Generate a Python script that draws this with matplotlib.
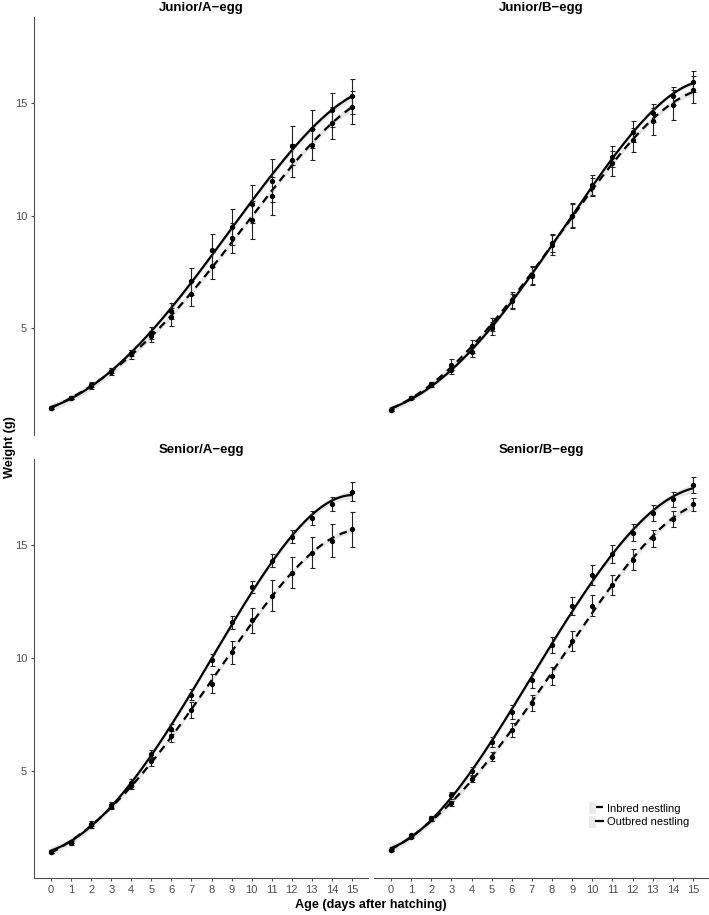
import numpy as np
import matplotlib
matplotlib.use('Agg')
import matplotlib.pyplot as plt
from matplotlib.patches import Patch
from matplotlib.lines import Line2D
from matplotlib.legend_handler import HandlerTuple

plt.rcParams['font.family'] = ['Liberation Sans', 'DejaVu Sans']

# ---------------- data ----------------
days = list(range(16))
panel_titles = ['Junior/A−egg', 'Junior/B−egg', 'Senior/A−egg', 'Senior/B−egg']
y_ticks = [5, 10, 15]
x_label = 'Age (days after hatching)'
y_label = 'Weight (g)'
legend_labels = ['Inbred nestling', 'Outbred nestling']

# Junior/A-egg
ja_out = [1.46, 1.93, 2.50, 3.12, 3.90, 4.79, 5.78, 7.08, 8.45, 9.51, 10.53, 11.55, 13.09, 13.85, 14.67, 15.29]
ja_out_se = [0.05, 0.06, 0.10, 0.12, 0.15, 0.25, 0.35, 0.60, 0.75, 0.80, 0.84, 0.96, 0.87, 0.84, 0.74, 0.77]
ja_in = [1.46, 1.93, 2.45, 3.08, 3.85, 4.64, 5.48, 6.53, 7.78, 9.00, 9.81, 10.86, 12.44, 13.14, 14.10, 14.80]
ja_in_se = [0.05, 0.06, 0.12, 0.15, 0.20, 0.25, 0.40, 0.55, 0.60, 0.65, 0.85, 0.85, 0.73, 0.69, 0.73, 0.73]

# Junior/B-egg
jb_out = [1.39, 1.93, 2.50, 3.16, 3.97, 5.00, 6.19, 7.37, 8.77, 9.99, 11.28, 12.61, 13.72, 14.56, 15.30, 15.94]
jb_out_se = [0.05, 0.05, 0.10, 0.20, 0.25, 0.30, 0.35, 0.40, 0.40, 0.50, 0.40, 0.45, 0.45, 0.40, 0.40, 0.45]
jb_in = [1.39, 1.93, 2.52, 3.38, 4.20, 5.16, 6.26, 7.30, 8.70, 9.99, 11.36, 12.32, 13.35, 14.17, 14.90, 15.57]
jb_in_se = [0.05, 0.05, 0.10, 0.25, 0.30, 0.30, 0.35, 0.40, 0.45, 0.55, 0.45, 0.55, 0.55, 0.60, 0.65, 0.60]

# Senior/A-egg
sa_out = [1.44, 1.88, 2.68, 3.49, 4.49, 5.74, 6.84, 8.38, 9.90, 11.57, 13.13, 14.31, 15.37, 16.18, 16.81, 17.35]
sa_out_se = [0.05, 0.06, 0.10, 0.12, 0.15, 0.18, 0.22, 0.24, 0.27, 0.30, 0.26, 0.30, 0.28, 0.31, 0.32, 0.42]
sa_in = [1.44, 1.81, 2.60, 3.43, 4.34, 5.44, 6.54, 7.69, 8.87, 10.25, 11.66, 12.75, 13.78, 14.66, 15.19, 15.69]
sa_in_se = [0.05, 0.08, 0.10, 0.12, 0.15, 0.20, 0.25, 0.35, 0.43, 0.50, 0.57, 0.68, 0.70, 0.68, 0.74, 0.78]

# Senior/B-egg
sb_out = [1.50, 2.16, 2.91, 3.93, 5.00, 6.28, 7.60, 9.01, 10.59, 12.28, 13.68, 14.59, 15.54, 16.40, 17.01, 17.64]
sb_out_se = [0.05, 0.05, 0.10, 0.15, 0.20, 0.22, 0.30, 0.35, 0.35, 0.40, 0.44, 0.40, 0.37, 0.35, 0.32, 0.35]
sb_in = [1.50, 2.10, 2.87, 3.57, 4.66, 5.63, 6.81, 8.01, 9.19, 10.74, 12.32, 13.24, 14.34, 15.29, 16.13, 16.80]
sb_in_se = [0.05, 0.05, 0.10, 0.10, 0.15, 0.20, 0.30, 0.35, 0.40, 0.45, 0.45, 0.45, 0.46, 0.37, 0.35, 0.29]

panel_data = [
    (ja_in, ja_in_se, ja_out, ja_out_se),
    (jb_in, jb_in_se, jb_out, jb_out_se),
    (sa_in, sa_in_se, sa_out, sa_out_se),
    (sb_in, sb_in_se, sb_out, sb_out_se),
]

# ---------------- helpers ----------------
def smooth_fit(x, y, xs, deg=4):
    x = np.asarray(x, float) / 15.0
    y = np.asarray(y, float)
    xq = np.asarray(xs, float) / 15.0
    X = np.vander(x, deg + 1)
    coef, *_ = np.linalg.lstsq(X, y, rcond=None)
    resid = y - X @ coef
    sigma2 = resid @ resid / (len(x) - deg - 1)
    XtXi = np.linalg.inv(X.T @ X)
    Xq = np.vander(xq, deg + 1)
    fit = Xq @ coef
    se = np.sqrt(sigma2 * np.einsum('ij,jk,ik->i', Xq, XtXi, Xq))
    return fit, se

# ---------------- figure ----------------
W, H = 709, 915
fig = plt.figure(figsize=(W / 100, H / 100), dpi=100)

col_x = [(34, 368), (374, 709)]
row_y = [(17, 435), (459, 878)]

axis_grey = '#4D4D4D'
ribbon_col = '#E6E6E6'
xs = np.linspace(0, 15, 200)
dash = (0, (3.5, 2.6))

axes = []
for i in range(4):
    r, c = divmod(i, 2)
    x0, x1 = col_x[c]
    y0, y1 = row_y[r]
    ax = fig.add_axes([x0 / W, 1 - y1 / H, (x1 - x0) / W, (y1 - y0) / H])
    axes.append(ax)
    inb, inb_se, outb, outb_se = panel_data[i]

    for vals, ses, ls in ((inb, inb_se, dash), (outb, outb_se, '-')):
        fit, se = smooth_fit(days, vals, xs)
        band = 1.2 * se + 0.04
        ax.fill_between(xs, fit - band, fit + band, color=ribbon_col, lw=0, zorder=1)
        ax.plot(xs, fit, color='black', lw=1.6, linestyle=ls, zorder=3)
        ax.errorbar(days, vals, yerr=ses, fmt='none', ecolor='#222222',
                    elinewidth=0.8, capsize=1.8, capthick=0.8, zorder=4)
        ax.plot(days, vals, 'o', color='black', ms=2.8, zorder=5)

    ax.set_xlim(-0.85, 15.8)
    ax.set_ylim(0.27, 18.8)
    ax.set_title(panel_titles[i], fontsize=9.5, fontweight='bold', pad=4)

    for s in ax.spines.values():
        s.set_visible(False)
        s.set_color(axis_grey)
        s.set_linewidth(0.8)
    if c == 0:
        ax.spines['left'].set_visible(True)
        ax.set_yticks(y_ticks)
        ax.set_yticklabels([str(v) for v in y_ticks])
    else:
        ax.set_yticks([])
    if r == 1:
        ax.spines['bottom'].set_visible(True)
        ax.set_xticks(days)
        ax.set_xticklabels([str(d) for d in days])
    else:
        ax.set_xticks([])
    ax.tick_params(axis='both', colors=axis_grey, labelcolor=axis_grey,
                   labelsize=8, length=2.5, width=0.8, pad=2.5)

fig.text(10 / W, 1 - 447 / H, y_label, rotation=90, ha='center', va='center',
         fontsize=9.2, fontweight='bold')
fig.text(371 / W, 1 - 905 / H, x_label, ha='center', va='center',
         fontsize=9.1, fontweight='bold')

# legend in the bottom-right panel
h_in = (Patch(facecolor='#EBEBEB', edgecolor='none'),
        Line2D([], [], color='black', lw=1.6, linestyle=dash))
h_out = (Patch(facecolor='#EBEBEB', edgecolor='none'),
         Line2D([], [], color='black', lw=1.6))
fig.legend([h_in, h_out], legend_labels,
           handler_map={tuple: HandlerTuple(ndivide=None, pad=0)},
           loc='center left', bbox_to_anchor=(589 / W, 1 - 815 / H),
           frameon=False, fontsize=8, handlelength=1.3, handleheight=1.3,
           handletextpad=0.3, labelspacing=0.12, borderpad=0, borderaxespad=0)

fig.savefig('out.png', dpi=100)
